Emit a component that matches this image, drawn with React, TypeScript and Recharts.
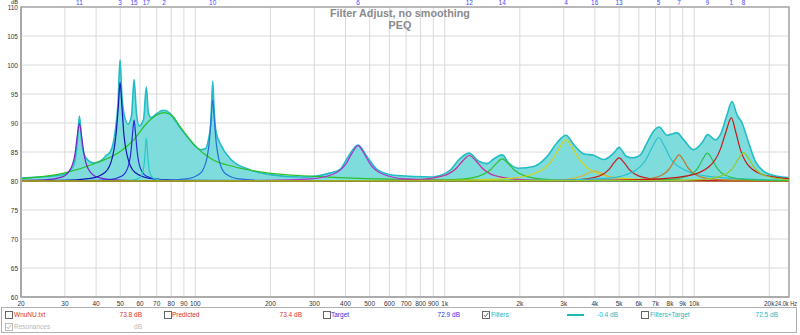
import React from 'react';
import { ComposedChart, Line, Area, XAxis, YAxis, CartesianGrid, ReferenceArea } from 'recharts';

type P = [number, number];

// Frequency (Hz) / level (dB) pairs
const TOTAL: P[] = [
  [20, 80.5], [23.7, 80.7], [26.1, 80.8], [28.6, 81.0], [30, 81.2], [31.5, 81.8], [32.7, 83.0], [33.6, 86.5],
  [34.3, 91.2], [35.0, 87.0], [35.6, 84.9], [36.9, 83.7], [39.0, 83.1], [41.5, 83.4], [44.2, 84.5], [45.6, 85.0],
  [47.7, 88.5], [49.0, 93.5], [49.9, 100.9], [50.8, 94.5], [51.8, 91.5], [53.8, 89.8], [55.5, 91.3], [56.8, 97.5],
  [58.0, 92.0], [59.6, 89.5], [62.0, 90.6], [63.6, 96.2], [64.8, 91.8], [66.5, 90.9], [69.0, 91.4], [72.2, 92.0],
  [74.9, 92.2], [78.9, 91.7], [83.1, 90.4], [86.8, 89.2], [95.5, 87.0], [100, 86.0], [105, 85.4], [110, 85.6],
  [112.7, 87.0], [115.4, 90.0], [117.4, 97.2], [119.0, 92.0], [121, 88.5], [126.6, 86.2], [139, 83.7], [166, 81.9],
  [200, 81.1], [263, 80.7], [300, 80.8], [348, 81.4], [380, 82.0], [410, 84.2], [449, 86.2], [488, 84.2],
  [535, 82.0], [622, 81.0], [900, 80.7], [951, 80.9], [1053, 81.9], [1141, 83.7], [1250, 84.8], [1370, 83.4],
  [1477, 83.0], [1571, 83.8], [1700, 84.5], [1805, 83.1], [1980, 82.2], [2271, 82.5], [2570, 84.2], [2819, 86.6],
  [3064, 87.9], [3286, 86.3], [3604, 84.7], [3970, 84.4], [4335, 83.7], [4755, 84.8], [5000, 85.8], [5060, 85.6],
  [5380, 84.2], [5720, 84.0], [6090, 84.5], [6473, 86.6], [6881, 88.6], [7240, 89.3], [7785, 87.9], [8537, 88.3],
  [9076, 87.1], [9950, 85.4], [10757, 86.6], [11330, 88.0], [12170, 87.1], [12733, 88.0], [13544, 91.4], [14170, 93.7],
  [14855, 91.4], [15560, 90.0], [16537, 86.6], [17589, 83.4], [18994, 81.7], [21484, 80.8], [24000, 80.6],
];

const F11: P[] = [[20, 80.1], [25, 80.2], [29.3, 80.7], [31.7, 82.2], [33, 84.95], [33.6, 87.7], [34.3, 89.9], [35, 87.7], [35.7, 84.95], [37.1, 82.2], [40.2, 80.7], [47.1, 80.2], [64.8, 80.05], [24000, 80]];
const F3: P[] = [[20, 80.05], [28.9, 80.1], [38, 80.45], [43.5, 81.5], [46.6, 84.25], [48.2, 88.5], [49.1, 92.75], [49.9, 97], [50.8, 92.75], [51.6, 88.5], [53.4, 84.25], [57.2, 81.5], [65.6, 80.45], [86.2, 80.1], [24000, 80]];
const F15: P[] = [[20, 80.03], [36.5, 80.06], [45.5, 80.25], [50.8, 80.85], [53.7, 82.4], [55.25, 85.25], [56, 88.1], [56.8, 90.5], [57.6, 88.1], [58.4, 85.25], [60, 82.4], [63.5, 80.85], [70.9, 80.25], [88.5, 80.06], [24000, 80]];
const F17: P[] = [[20, 80], [49.5, 80.04], [56.1, 80.15], [59.7, 80.5], [61.6, 81.6], [62.6, 83.7], [63.1, 85.8], [63.6, 87.4], [64.1, 85.8], [64.6, 83.7], [65.6, 81.6], [67.7, 80.5], [72.1, 80.15], [81.8, 80.04], [24000, 80]];
const F2: P[] = [[20, 80.4], [30, 81.4], [40, 83.1], [50, 85.1], [56.6, 87.1], [64, 90], [69.5, 91.3], [74.9, 91.8], [81, 91.2], [86.8, 89.4], [100, 86], [117, 83.7], [142, 82.5], [194, 81.4], [297, 80.8], [486, 80.4], [660, 80.3], [2000, 80.1], [24000, 80.05]];
const F10: P[] = [[20, 80], [72.1, 80.08], [92, 80.35], [103.9, 81.2], [110.5, 83.4], [113.9, 87], [115.6, 90.6], [117.4, 94], [119.2, 90.6], [121, 87], [124.8, 83.4], [132.6, 81.2], [149.8, 80.35], [191.1, 80.08], [24000, 80]];
const F6: P[] = [[20, 80], [79.6, 80.02], [189, 80.1], [291, 80.37], [362, 81.3], [403, 83.05], [425, 84.8], [449, 86.1], [474, 84.8], [500, 83.05], [557, 81.3], [692, 80.37], [1066, 80.1], [2532, 80.02], [24000, 80]];
const F12: P[] = [[20, 80], [184, 80.02], [480, 80.07], [776, 80.26], [987, 80.9], [1113, 82.2], [1182, 83.5], [1255, 84.4], [1333, 83.5], [1415, 82.2], [1596, 80.9], [2029, 80.26], [3281, 80.07], [8572, 80.02], [24000, 80]];
const F14: P[] = [[20, 80], [289, 80.02], [700, 80.06], [1091, 80.23], [1362, 80.8], [1522, 81.9], [1608, 83], [1700, 83.8], [1797, 83], [1899, 81.9], [2122, 80.8], [2648, 80.23], [4126, 80.06], [10010, 80.02], [24000, 80]];
const F4: P[] = [[20, 80], [387, 80.04], [1089, 80.13], [1827, 80.46], [2366, 81.55], [2692, 83.55], [2872, 85.55], [3064, 87.1], [3268, 85.55], [3487, 83.55], [3968, 81.55], [5140, 80.46], [8622, 80.13], [24000, 80.04]];
const F16: P[] = [[20, 80], [1526, 80.03], [2468, 80.1], [3138, 80.34], [3538, 80.85], [3758, 81.36], [3990, 81.7], [4237, 81.36], [4499, 80.85], [5073, 80.34], [6450, 80.1], [10430, 80.03], [24000, 80]];
const F13: P[] = [[20, 80], [1142, 80.02], [2388, 80.06], [3455, 80.24], [4157, 80.84], [4559, 82], [4775, 83.16], [5000, 84], [5236, 83.16], [5484, 82], [6015, 80.84], [7235, 80.24], [10470, 80.06], [24000, 80.02]];
const F5: P[] = [[20, 80], [1136, 80.04], [2859, 80.14], [4537, 80.49], [5716, 81.65], [6415, 83.75], [6796, 85.85], [7200, 87.5], [7628, 85.85], [8081, 83.75], [9070, 82.0], [11426, 80.8], [18132, 80.25], [24000, 80.15]];
const F7: P[] = [[20, 80], [2302, 80.02], [4474, 80.07], [6239, 80.27], [7368, 80.95], [8007, 82.25], [8346, 83.55], [8700, 84.5], [9069, 83.55], [9453, 82.25], [10273, 80.95], [12131, 80.27], [16917, 80.07], [24000, 80.03]];
const F9: P[] = [[20, 80], [2989, 80.02], [5811, 80.08], [8104, 80.29], [9570, 81], [10399, 82.4], [10840, 83.8], [11300, 84.8], [11779, 83.8], [12279, 82.4], [13343, 81], [15757, 80.29], [21973, 80.08], [24000, 80.06]];
const F1: P[] = [[20, 80], [2774, 80.07], [6251, 80.24], [9385, 80.87], [11498, 82.5], [12729, 85.45], [13392, 88.4], [14090, 90.9], [14688, 88.4], [15310, 85.45], [16637, 82.5], [19647, 80.87], [24000, 80.4]];
const F8: P[] = [[20, 80], [7542, 80.08], [10912, 80.29], [13127, 81.03], [14396, 82.45], [15078, 83.87], [15790, 84.9], [16535, 83.87], [17319, 82.45], [18994, 81.03], [22848, 80.29], [24000, 80.25]];

// filter numbers shown along the top, at their centre frequency
const TOP_FREQS = [34.3, 49.9, 56.8, 63.6, 74.9, 117.4, 449, 1255, 1700, 3064, 3990, 5000, 7200, 8700, 11300, 14090, 15790];
const TOP_LABELS = ['11', '3', '15', '17', '2', '10', '6', '12', '14', '4', '16', '13', '5', '7', '9', '1', '8'];

const X_TICKS = [20, 30, 40, 50, 60, 70, 80, 90, 100, 200, 300, 400, 500, 600, 700, 800, 900, 1000, 2000, 3000, 4000, 5000, 6000, 7000, 8000, 9000, 10000, 20000, 24000];
const X_LABELS = ['20', '30', '40', '50', '60', '70', '80', '90', '100', '200', '300', '400', '500', '600', '700', '800', '900', '1k', '2k', '3k', '4k', '5k', '6k', '7k', '8k', '9k', '10k', '20k', '24.0k Hz'];
const Y_TICKS = [60, 65, 70, 75, 80, 85, 90, 95, 100, 105, 110];

const FILTERS = [
  { id: '2', color: '#28c028', pts: F2 },
  { id: '11', color: '#7a22c8', pts: F11 },
  { id: '3', color: '#1414b4', pts: F3 },
  { id: '15', color: '#2a2ae0', pts: F15 },
  { id: '17', color: '#28c8c8', pts: F17 },
  { id: '10', color: '#2070d8', pts: F10 },
  { id: '6', color: '#b030d0', pts: F6 },
  { id: '12', color: '#c8289a', pts: F12 },
  { id: '14', color: '#30c030', pts: F14 },
  { id: '4', color: '#d4d414', pts: F4 },
  { id: '16', color: '#d0b840', pts: F16 },
  { id: '13', color: '#c82020', pts: F13 },
  { id: '5', color: '#28c0d0', pts: F5 },
  { id: '7', color: '#c07828', pts: F7 },
  { id: '9', color: '#30c050', pts: F9 },
  { id: '1', color: '#c81818', pts: F1 },
  { id: '8', color: '#98c828', pts: F8 },
];

const LEGEND = [
  { name: 'WnuNU.txt', value: '73.8 dB', color: '#e03030', box: 5, text: 14, valEnd: 142, checked: false },
  { name: 'Predicted', value: '73.4 dB', color: '#e03030', box: 164, text: 172, valEnd: 302, checked: false },
  { name: 'Target', value: '72.9 dB', color: '#3030e0', box: 323, text: 331, valEnd: 460, checked: false },
  { name: 'Filters', value: '-0.4 dB', color: '#20b8c0', box: 482, text: 491, valEnd: 618, checked: true },
  { name: 'Filters+Target', value: '72.5 dB', color: '#20b8c0', box: 641, text: 650, valEnd: 778, checked: false },
];

const FONT = "'Liberation Sans', Arial, sans-serif";
const rows = (pts: P[]) => pts.map(([f, db]) => ({ f, db }));

const BottomTick = ({ x, y, payload, index }: any) => {
  const last = index === X_TICKS.length - 1;
  return (
    <text x={last ? x + 8 : x} y={y + 8.5} textAnchor={last ? 'end' : 'middle'} fontSize={6.5} fill="#333" fontFamily={FONT}
      textLength={last ? 22 : undefined} lengthAdjust="spacingAndGlyphs">
      {X_LABELS[X_TICKS.indexOf(payload.value)]}
    </text>
  );
};

const LeftTick = ({ x, y, payload }: any) => (
  <g>
    <text x={x - 3} y={y + 2.6} textAnchor="end" fontSize={6.5} fill="#333" fontFamily={FONT}>{payload.value}</text>
    {payload.value === 110 && (
      <text x={x - 3} y={y - 2.9} textAnchor="end" fontSize={5.8} fill="#333" fontFamily={FONT}>dB</text>
    )}
  </g>
);

const TopTick = ({ x, y, payload }: any) => (
  <text x={x} y={y - 1.8} textAnchor="middle" fontSize={6.5} fill="#4848ff" fontFamily={FONT}>
    {TOP_LABELS[TOP_FREQS.indexOf(payload.value)]}
  </text>
);

const Check = ({ x, y, checked, color = '#666' }: any) => (
  <svg style={{ position: 'absolute', left: x, top: y }} width={8} height={8}>
    <rect x={0.5} y={0.5} width={7} height={7} fill="#fff" stroke={color} />
    {checked && <path d="M1.8 4 L3.3 5.8 L6.3 1.8" fill="none" stroke={color} strokeWidth={1} />}
  </svg>
);

export default function App() {
  const txt = { position: 'absolute' as const, fontSize: 6.5, fontFamily: FONT, lineHeight: '8px', whiteSpace: 'nowrap' as const };
  return (
    <div style={{ position: 'absolute', left: 0, top: 0, width: 800, height: 335, background: '#fff', overflow: 'hidden' }}>
      <ComposedChart width={800} height={335} margin={{ top: 0, right: 11, bottom: 0, left: 0 }}>
        <CartesianGrid xAxisId="b" stroke="#dadada" strokeWidth={1} />
        <XAxis xAxisId="b" dataKey="f" type="number" scale="log" domain={[20, 24000]} ticks={X_TICKS}
          allowDataOverflow height={38} tickSize={0} tickMargin={0} tick={<BottomTick />} interval={0}
          axisLine={{ stroke: '#a8a8a8', strokeWidth: 1.5 }} tickLine={false} />
        <XAxis xAxisId="t" orientation="top" dataKey="f" type="number" scale="log" domain={[20, 24000]} ticks={TOP_FREQS}
          allowDataOverflow height={7} tickSize={0} tickMargin={0} tick={<TopTick />} interval={0}
          axisLine={false} tickLine={false} />
        <YAxis type="number" domain={[60, 110]} ticks={Y_TICKS} width={21} tickSize={0} tickMargin={0} interval={0}
          tick={<LeftTick />} axisLine={{ stroke: '#a8a8a8', strokeWidth: 2 }} tickLine={false} allowDataOverflow />
        <Area xAxisId="b" data={rows(TOTAL)} dataKey="db" type="monotone" baseValue={80} fill="#7fdcdc" fillOpacity={1}
          stroke="#22bcc6" strokeWidth={1.6} dot={false} activeDot={false} isAnimationActive={false} />
        {FILTERS.map(s => (
          <Line key={s.id} xAxisId="b" data={rows(s.pts)} dataKey="db" type="monotone" stroke={s.color} strokeWidth={1.2}
            dot={false} activeDot={false} isAnimationActive={false} />
        ))}
        <ReferenceArea xAxisId="b" x1={20} x2={24000} y1={60} y2={110} fill="none" stroke="#a8a8a8" strokeWidth={1.5} ifOverflow="visible" />
      </ComposedChart>

      <div style={{ position: 'absolute', left: 0, width: 800, top: 8, textAlign: 'center', fontFamily: FONT, fontWeight: 'bold', fontSize: 10.8, lineHeight: '11.5px', color: '#8a8a8a' }}>
        Filter Adjust, no smoothing<br />PEQ
      </div>

      <div style={{ position: 'absolute', left: 1, top: 307, width: 796, height: 26, border: '1px solid #b0b0b0', boxSizing: 'border-box' }} />
      {LEGEND.map(l => (
        <React.Fragment key={l.name}>
          <Check x={l.box} y={311} checked={l.checked} />
          <div style={{ ...txt, left: l.text, top: 311, color: l.color }}>{l.name}</div>
          <div style={{ ...txt, left: l.valEnd - 40, width: 40, textAlign: 'right', top: 311, color: l.color }}>{l.value}</div>
        </React.Fragment>
      ))}
      <div style={{ position: 'absolute', left: 567, top: 314, width: 17, height: 1.5, background: '#20b8c0' }} />
      <Check x={5} y={323} checked color="#b8b8b8" />
      <div style={{ ...txt, left: 14, top: 323, color: '#b8b8b8' }}>Resonances</div>
      <div style={{ ...txt, left: 102, width: 40, textAlign: 'right', top: 323, color: '#b8b8b8' }}>dB</div>
    </div>
  );
}
